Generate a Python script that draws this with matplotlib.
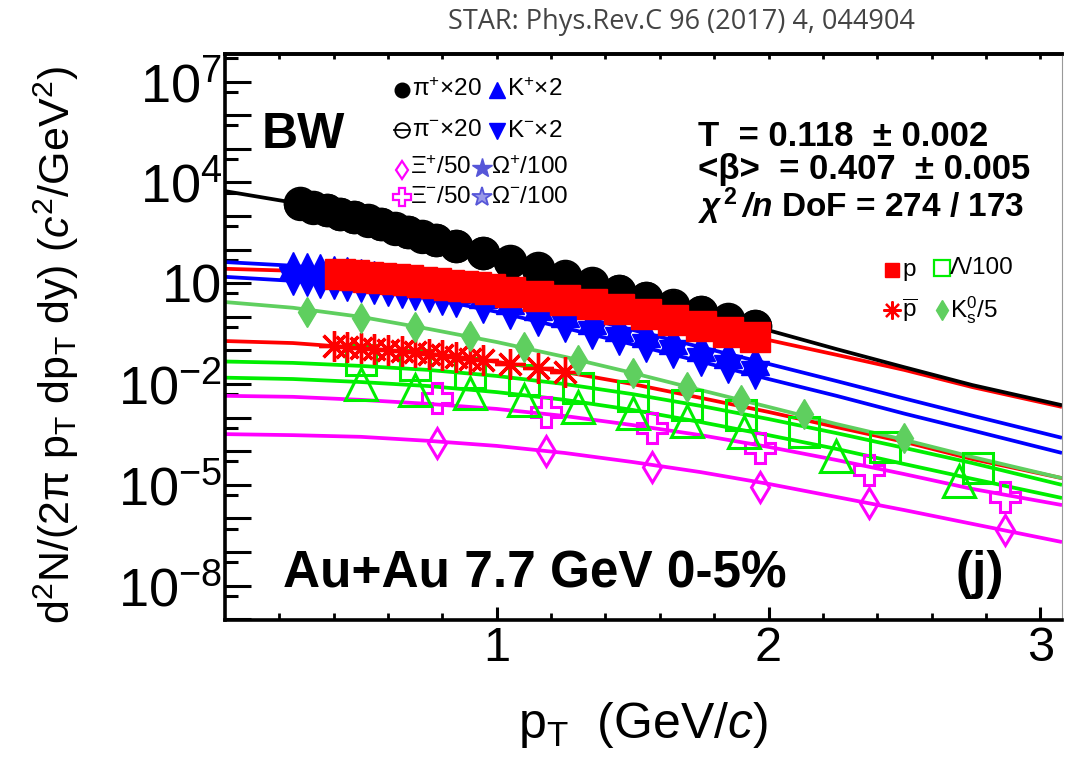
import numpy as np
import matplotlib
matplotlib.use("Agg")
import matplotlib.pyplot as plt
from matplotlib.ticker import FixedLocator, FuncFormatter, NullFormatter

plt.rcParams['font.family'] = ['Liberation Sans', 'DejaVu Sans']
plt.rcParams['mathtext.fontset'] = 'custom'
plt.rcParams['mathtext.rm'] = 'Liberation Sans'
plt.rcParams['mathtext.it'] = 'Liberation Sans:italic'
plt.rcParams['mathtext.bf'] = 'Liberation Sans:bold'
plt.rcParams['mathtext.bfit'] = 'Liberation Sans:italic:bold'
plt.rcParams['mathtext.default'] = 'regular'

# ---------------- data (values are log10 of the yield) -------------
fit_pt = [0.0, 0.25, 0.5, 0.75, 1.0, 1.25, 1.5, 1.75, 2.0, 2.25, 2.5, 2.75, 3.08]
fit_pi = [3.74, 3.40, 2.92, 2.34, 1.76, 1.20, 0.66, 0.13, -0.40, -0.96, -1.50, -2.03, -2.63]
fit_kp = [1.63, 1.52, 1.31, 1.01, 0.59, 0.12, -0.39, -0.90, -1.40, -1.91, -2.43, -2.94, -3.60]
fit_km = [1.19, 1.07, 0.86, 0.56, 0.15, -0.33, -0.82, -1.33, -1.85, -2.35, -2.88, -3.38, -4.05]
fit_p = [1.43, 1.37, 1.22, 1.04, 0.80, 0.50, 0.15, -0.27, -0.69, -1.13, -1.58, -2.09, -2.68]
fit_pbar = [-0.72, -0.78, -0.93, -1.10, -1.34, -1.64, -2.00, -2.41, -2.83, -3.28, -3.72, -4.23, -4.80]
fit_k0s = [0.44, 0.27, 0.00, -0.36, -0.75, -1.19, -1.67, -2.18, -2.68, -3.19, -3.66, -4.17, -4.80]
fit_lam = [-1.33, -1.37, -1.46, -1.58, -1.76, -2.00, -2.30, -2.65, -3.04, -3.46, -3.90, -4.35, -5.00]
fit_lamb = [-1.81, -1.85, -1.94, -2.06, -2.24, -2.47, -2.77, -3.13, -3.52, -3.93, -4.38, -4.82, -5.39]
fit_xim = [-2.35, -2.38, -2.47, -2.59, -2.74, -2.95, -3.22, -3.52, -3.87, -4.26, -4.68, -5.12, -5.60]
fit_xip = [-3.49, -3.52, -3.57, -3.69, -3.84, -4.05, -4.32, -4.62, -4.97, -5.36, -5.75, -6.16, -6.70]

pi_pt = [0.275, 0.325, 0.375, 0.425, 0.475, 0.525, 0.575, 0.625, 0.675, 0.725, 0.775,
         0.85, 0.95, 1.05, 1.15, 1.25, 1.35, 1.45, 1.55, 1.65, 1.75, 1.85, 1.95]
pip_y = [3.36, 3.25, 3.17, 3.05, 2.97, 2.85, 2.76, 2.62, 2.52, 2.39, 2.29,
         2.10, 1.89, 1.64, 1.43, 1.19, 0.99, 0.76, 0.56, 0.33, 0.14, -0.09, -0.28]
pim_y = [3.38, 3.27, 3.18, 3.07, 2.98, 2.87, 2.77, 2.64, 2.53, 2.41, 2.30,
         2.12, 1.90, 1.66, 1.44, 1.21, 1.00, 0.78, 0.57, 0.35, 0.15, -0.07, -0.27]

k_pt = [0.25, 0.30, 0.35, 0.40, 0.45, 0.50, 0.55, 0.60, 0.65, 0.70, 0.75, 0.80,
        0.85, 0.95, 1.05, 1.15, 1.25, 1.35, 1.45, 1.55, 1.65, 1.75, 1.85, 1.95]
kp_y = [1.52, 1.48, 1.44, 1.39, 1.35, 1.31, 1.25, 1.19, 1.13, 1.07, 1.01, 0.93,
        0.84, 0.68, 0.50, 0.31, 0.12, -0.09, -0.29, -0.49, -0.69, -0.90, -1.10, -1.30]
km_y = [1.07, 1.03, 0.99, 0.94, 0.90, 0.86, 0.80, 0.74, 0.68, 0.62, 0.56, 0.48,
        0.40, 0.23, 0.05, -0.14, -0.33, -0.53, -0.72, -0.92, -1.12, -1.33, -1.54, -1.74]

p_pt = [0.425, 0.475, 0.525, 0.575, 0.625, 0.675, 0.725, 0.775, 0.825, 0.875, 0.925, 0.975,
        1.05, 1.15, 1.25, 1.35, 1.45, 1.55, 1.65, 1.75, 1.85, 1.95]
p_y = [1.26, 1.23, 1.20, 1.16, 1.13, 1.10, 1.05, 1.01, 0.96, 0.92, 0.88, 0.83,
       0.74, 0.62, 0.50, 0.37, 0.22, 0.07, -0.09, -0.27, -0.44, -0.60]

pbar_pt = [0.40, 0.45, 0.50, 0.55, 0.60, 0.65, 0.70, 0.75, 0.80, 0.85, 0.90, 0.95, 1.05, 1.15, 1.25]
pbar_y = [-0.87, -0.90, -0.93, -0.96, -0.99, -1.02, -1.06, -1.10, -1.15, -1.19, -1.24, -1.28, -1.40, -1.52, -1.64]

k0s_pt = [0.3, 0.5, 0.7, 0.9, 1.1, 1.3, 1.5, 1.7, 1.9, 2.13, 2.5]
k0s_y = [0.15, -0.03, -0.30, -0.57, -0.90, -1.28, -1.67, -2.09, -2.47, -2.89, -3.60]

lam_pt = [0.5, 0.7, 0.9, 1.1, 1.3, 1.5, 1.7, 1.9, 2.13, 2.43, 2.77]
lam_y = [-1.28, -1.43, -1.67, -1.88, -2.12, -2.35, -2.62, -2.92, -3.43, -3.87, -4.50]

lamb_pt = [0.5, 0.7, 0.9, 1.1, 1.3, 1.5, 1.7, 1.91, 2.25, 2.70]
lamb_y = [-2.00, -2.18, -2.27, -2.47, -2.68, -2.86, -3.10, -3.43, -4.14, -4.88]

xi_pt = [0.78, 1.18, 1.57, 1.97, 2.37, 2.87]
xim_y = [-2.42, -2.82, -3.31, -3.90, -4.56, -5.36]
xip_y = [-3.76, -3.99, -4.46, -5.05, -5.55, -6.34]

y_tick_exps = [7, 4, 1, -2, -5, -8]
y_tick_labels = ['$10^{7}$', '$10^{4}$', '10', '$10^{-2}$', '$10^{-5}$', '$10^{-8}$']
x_tick_vals = [1, 2, 3]
x_tick_labels = ['1', '2', '3']

# ---------------- figure ----------------
W, H = 1073, 769
fig = plt.figure(figsize=(W / 100, H / 100), dpi=100, facecolor='white')
AX_L, AX_R, AX_T, AX_B = 225, 1062, 54, 620
ax = fig.add_axes([AX_L / W, 1 - AX_B / H, (AX_R - AX_L) / W, (AX_B - AX_T) / H])
ax.set_yscale('log')
ax.set_xlim(0, 3.08)
ax.set_ylim(10 ** -9.02, 10 ** 7.82)

BLACK, RED, BLUE = '#000000', '#ff0000', '#0000ff'
K0COL, GREEN, MAG, OMG = '#5fcf5f', '#00ee00', '#ff00ff', '#5656d8'


def e(v):
    return np.power(10.0, np.asarray(v, dtype=float))


LW = 2.7
for vals, col in [(fit_xip, MAG), (fit_xim, MAG), (fit_lamb, GREEN), (fit_lam, GREEN),
                  (fit_pbar, RED), (fit_k0s, K0COL), (fit_km, BLUE), (fit_kp, BLUE),
                  (fit_p, RED), (fit_pi, BLACK)]:
    ax.plot(fit_pt, e(vals), color=col, lw=LW, zorder=2, solid_capstyle='butt')

ast = (8, 2, 0)
ax.plot(xi_pt, e(xip_y), ls='none', marker='d', ms=15, mfc='none', mec=MAG, mew=2.2, zorder=3)
ax.plot(xi_pt, e(xim_y), ls='none', marker='P', ms=22, mfc='none', mec=MAG, mew=2.2, zorder=3)
ax.plot(lamb_pt, e(lamb_y), ls='none', marker='^', ms=23, mfc='none', mec=GREEN, mew=2.2, zorder=3)
ax.plot(lam_pt, e(lam_y), ls='none', marker='s', ms=22, mfc='none', mec=GREEN, mew=2.2, zorder=3)
ax.plot(pbar_pt, e(pbar_y), ls='none', marker=ast, ms=22, color=RED, mew=2.4, zorder=3)
ax.plot(k0s_pt, e(k0s_y), ls='none', marker='d', ms=15, color=K0COL, zorder=3)
ax.plot(k_pt, e(km_y), ls='none', marker='v', ms=20, color=BLUE, zorder=4)
ax.plot(k_pt, e(kp_y), ls='none', marker='^', ms=20, color=BLUE, zorder=4)
ax.plot(pi_pt, e(pip_y), ls='none', marker='o', ms=23, color=BLACK, zorder=5)
ax.plot(pi_pt, e(pim_y), ls='none', marker='o', ms=23, mfc='none', mec=BLACK, mew=1.2, zorder=5)
ax.plot(p_pt, e(p_y), ls='none', marker='s', ms=21, color=RED, zorder=6)

# ---------------- axes styling ----------------
for s in ['left', 'bottom', 'top']:
    ax.spines[s].set_linewidth(2.6)
ax.spines['right'].set_linewidth(0.8)
ax.spines['right'].set_color('#999999')

ax.yaxis.set_major_locator(FixedLocator([10.0 ** k for k in range(-9, 8)]))
ax.yaxis.set_minor_locator(FixedLocator([5 * 10.0 ** k for k in range(-10, 8)]))
lab = dict(zip(y_tick_exps, y_tick_labels))
ax.yaxis.set_major_formatter(FuncFormatter(lambda v, p: lab.get(int(round(np.log10(v))), '')))
ax.yaxis.set_minor_formatter(NullFormatter())
ax.tick_params(axis='y', which='major', direction='in', length=19, width=2.2, pad=2,
               labelsize=39, right=False)
ax.tick_params(axis='y', which='minor', direction='in', length=9.5, width=2.2, right=False)

ax.xaxis.set_major_locator(FixedLocator(x_tick_vals))
ax.xaxis.set_major_formatter(FuncFormatter(lambda v, p: dict(zip(x_tick_vals, x_tick_labels)).get(int(round(v)), '')))
ax.xaxis.set_minor_locator(FixedLocator([0.2 * i for i in range(1, 16)]))
ax.tick_params(axis='x', which='major', direction='in', length=9.5, width=2.2, pad=4,
               labelsize=35, top=False)
ax.tick_params(axis='x', which='minor', direction='in', length=5, width=2.0, top=False)

sec = ax.secondary_xaxis('top')
sec.xaxis.set_major_locator(FixedLocator([0.2 * i for i in range(1, 16)]))
sec.xaxis.set_major_formatter(NullFormatter())
sec.tick_params(direction='in', length=3.5, width=2.0)
sec.spines['top'].set_linewidth(2.6)


# ---------------- texts ----------------
def fx(px):
    return px / W


def fy(py):
    return 1 - py / H


fig.text(fx(681), fy(22), 'STAR: Phys.Rev.C 96 (2017) 4, 044904', family=['Open Sans', 'DejaVu Sans'],
         fontsize=19.5, color='#444444', ha='center', va='center')

fig.text(fx(56), fy(345), r'd$^{2}$N/(2π p$_{T}$ dp$_{T}$ dy) ($\mathit{c}^{2}$/GeV$^{2}$)',
         rotation=90, fontsize=31, ha='center', va='center')
fig.text(fx(643), fy(738), r'p$_{T}$  (GeV/$\mathit{c}$)', fontsize=36, ha='center', va='baseline')

fig.text(fx(262), fy(148), 'BW', fontsize=36, weight='bold', va='baseline')
fig.text(fx(283), fy(588), 'Au+Au 7.7 GeV 0-5%', fontsize=37, weight='bold', va='baseline')
fig.text(fx(956), fy(588), '(j)', fontsize=37, weight='bold', va='baseline')

fig.text(fx(698), fy(136), 'T  = 0.118  ± 0.002', fontsize=25, weight='bold', va='center')
fig.text(fx(698), fy(169), '<β>  = 0.407  ± 0.005', fontsize=25, weight='bold', va='center')
fig.text(fx(698), fy(206), r'$\mathbfit{χ}^{\,2}\,\mathbfit{/n}$ DoF = 274 / 173', fontsize=24,
         weight='bold', va='center')


# legend glyphs (axes-fraction coordinates from pixel positions)
def ax_pt(px, py):
    return (px - AX_L) / (AX_R - AX_L), (AX_B - py) / (AX_B - AX_T)


def glyph(px, py, **kw):
    x, y = ax_pt(px, py)
    ax.plot([x], [y], transform=ax.transAxes, clip_on=False, ls='none', zorder=7, **kw)


def label(px, py, s, size=17.5):
    fig.text(fx(px), fy(py), s, fontsize=size, va='center', ha='left')


glyph(402, 90, marker='o', ms=10.5, color=BLACK)
label(412, 90, r'$π^{+}$×20')
glyph(497, 90, marker='^', ms=11.5, color=BLUE)
label(507, 90, r'$K^{+}$×2')

x0, y0 = ax_pt(394, 130)
x1, _ = ax_pt(410, 130)
ax.plot([x0, x1], [y0, y0], transform=ax.transAxes, clip_on=False, color=BLACK, lw=1.3, zorder=7)
glyph(402, 130, marker='o', ms=10.5, mfc='none', mec=BLACK, mew=1.3)
label(412, 130, r'$π^{-}$×20')
glyph(497, 131, marker='v', ms=11.5, color=BLUE)
label(507, 131, r'$K^{-}$×2')

glyph(402, 170, marker='d', ms=9.5, mfc='none', mec=MAG, mew=1.6)
label(410, 168, r'$Ξ^{+}$/50')
glyph(482, 168, marker='*', ms=15, color=OMG)
label(491, 168, r'$Ω^{+}$/100')

glyph(402, 197, marker='P', ms=13, mfc='none', mec=MAG, mew=1.6)
label(410, 197, r'$Ξ^{-}$/50')
glyph(482, 197, marker='*', ms=15, mfc='#9a9ae8', mec=OMG, mew=1.3)
label(491, 197, r'$Ω^{-}$/100')

glyph(892, 270, marker='s', ms=10, color=RED)
label(902, 270, 'p')
glyph(942, 268, marker='s', ms=11, mfc='none', mec=GREEN, mew=1.6)
label(950, 268, 'Λ/100')
glyph(892, 310, marker=ast, ms=13, color=RED, mew=1.6)
label(902, 310, r'$\overline{p}$')
glyph(942, 310, marker='d', ms=10, color=K0COL)
label(950, 310, r'$K^{0}_{s}$/5')

fig.savefig('out.png', dpi=100, facecolor='white')
